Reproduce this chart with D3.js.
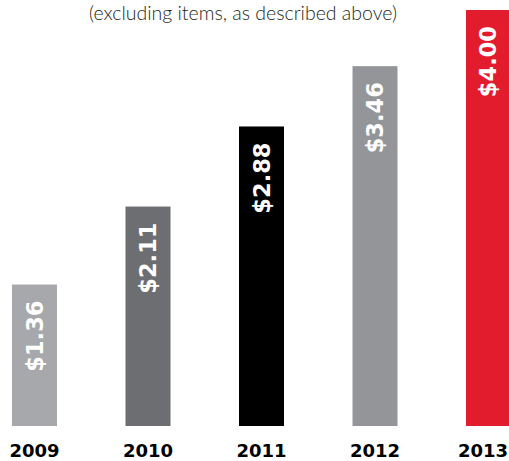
<!DOCTYPE html>
<html>
<head>
<meta charset="utf-8">
<script src="https://cdn.jsdelivr.net/npm/d3@7"></script>
<style>
  html, body { margin: 0; padding: 0; background: #fff; }
  svg { display: block; }
</style>
</head>
<body>
<script>
const years = ["2009", "2010", "2011", "2012", "2013"];
const values = [1.36, 2.11, 2.88, 3.46, 4.00];
const labels = ["$1.36", "$2.11", "$2.88", "$3.46", "$4.00"];
const colors = ["#a7a8ab", "#6d6e71", "#000000", "#939598", "#e21b2d"];
const subtitle = "(excluding items, as described above)";

const W = 509, H = 461;
const svg = d3.select("body").append("svg").attr("width", W).attr("height", H);

const x = d3.scaleBand().domain(years).range([12, 511]).paddingInner(0.6035).paddingOuter(0);
const y = d3.scaleLinear().domain([0, 4.0]).range([426, 10]);

svg.append("text")
  .attr("x", 243).attr("y", 20)
  .attr("text-anchor", "middle")
  .attr("font-family", "Lato, 'Open Sans', sans-serif")
  .attr("font-weight", 300)
  .attr("font-size", 19.5)
  .attr("fill", "#231f20")
  .text(subtitle);

const g = svg.selectAll("g.bar").data(years).enter().append("g").attr("class", "bar");

g.append("rect")
  .attr("x", d => x(d))
  .attr("y", (d, i) => y(values[i]))
  .attr("width", x.bandwidth())
  .attr("height", (d, i) => y(0) - y(values[i]))
  .attr("fill", (d, i) => colors[i]);

g.append("text")
  .attr("transform", (d, i) => `translate(${x(d) + x.bandwidth() / 2 + 8},${y(values[i]) + 16}) rotate(-90)`)
  .attr("text-anchor", "end")
  .attr("font-family", "'DejaVu Sans', sans-serif")
  .attr("font-weight", "bold")
  .attr("font-size", 22.5)
  .attr("fill", "#fff")
  .text((d, i) => labels[i]);

const xAxis = svg.append("g").attr("transform", `translate(0,${y(0)})`)
  .call(d3.axisBottom(x).tickSize(0).tickPadding(0));
xAxis.select(".domain").remove();
xAxis.selectAll("text")
  .attr("dy", null)
  .attr("y", 31)
  .attr("font-family", "'DejaVu Sans', sans-serif")
  .attr("font-weight", "900")
  .attr("font-size", 18)
  .attr("fill", "#000");

// keep tick labels inside the window
xAxis.selectAll(".tick").each(function () {
  const t = d3.select(this);
  const txt = t.select("text");
  const box = this.getBBox();
  const m = this.getCTM();
  const right = m.e + box.x + box.width;
  if (right > W - 1) txt.attr("x", (W - 1) - right);
});
</script>
</body>
</html>
